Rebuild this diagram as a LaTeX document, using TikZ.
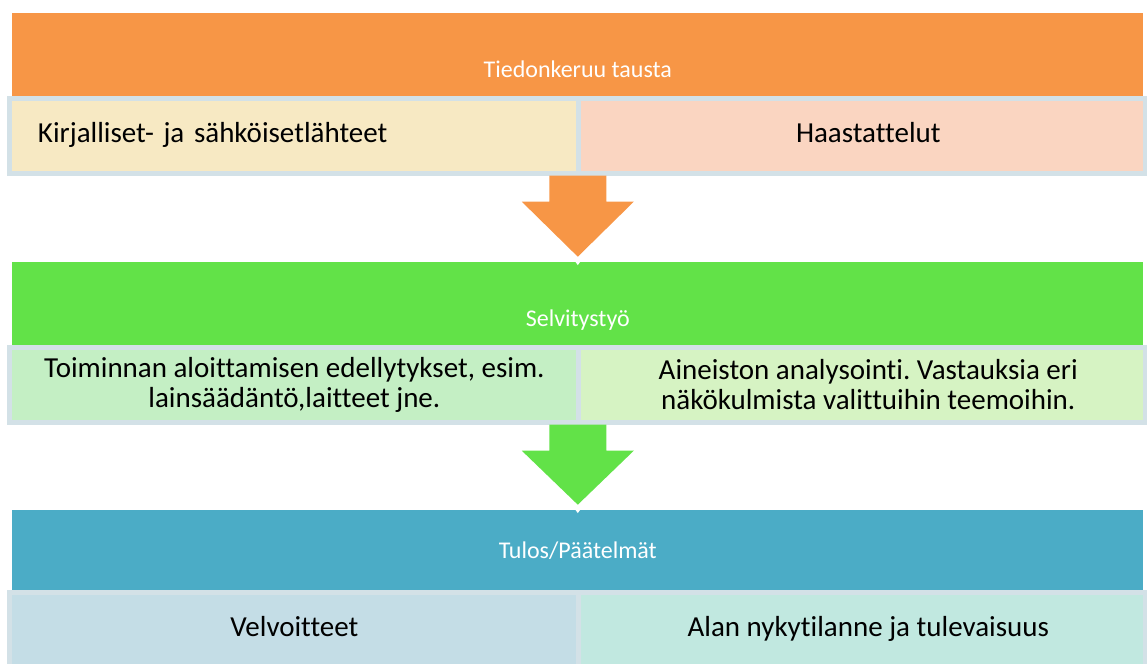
\documentclass[tikz,border=0pt]{standalone}
\usepackage{fontspec}
\setmainfont{Carlito}[Ligatures={NoCommon,NoContextual}]
\frenchspacing
\usetikzlibrary{calc,positioning}
\definecolor{bandorange}{RGB}{247,150,70}
\definecolor{bandgreen}{RGB}{98,226,72}
\definecolor{bandblue}{RGB}{75,172,198}
\definecolor{boxline}{RGB}{211,225,231}
\definecolor{boxbeige}{RGB}{247,233,195}
\definecolor{boxpeach}{RGB}{250,213,193}
\definecolor{boxmint}{RGB}{196,239,196}
\definecolor{boxlime}{RGB}{214,243,195}
\definecolor{boxsky}{RGB}{196,221,230}
\definecolor{boxaqua}{RGB}{193,232,224}

\begin{document}
\begin{tikzpicture}[
    band/.style={rectangle,inner sep=0pt,outer sep=0pt,minimum width=565.5pt,minimum height=41.5pt,
      text=white,font=\fontsize{12pt}{14pt}\selectfont,text height=24pt,text depth=1pt},
    sub/.style={rectangle,draw=boxline,line width=2.5pt,outer sep=1.25pt,minimum width=284.6pt,
      minimum height=37.5pt,align=center,font=\fontsize{14.5pt}{14.75pt}\selectfont},
    subright/.style={sub,minimum width=283.3pt},
    oneline/.style={text height=10.2pt,text depth=3pt}]
    \useasboundingbox (-288.9pt,27.1pt) rectangle (284.6pt,-304.9pt);
    \clip (-288.9pt,27.1pt) rectangle (284.6pt,-304.9pt);
    % tiedonkeruu
    \node[band,fill=bandorange] (b1) at (0,0) {Tiedonkeruu tausta};
    \node[sub,oneline,fill=boxbeige,text width=256.4pt,align=left,below right=0pt and -2.5pt of b1.south west] (k1) {Kirjalliset- ja sähköisetlähteet};
    \node[subright,oneline,fill=boxpeach,right=-2.5pt of k1] (h1) {\hspace*{6pt}Haastattelut};
    % selvitystyo
    \node[band,fill=bandgreen,below=83pt of b1] (b2) {Selvitystyö};
    \node[sub,fill=boxmint,below right=0pt and -2.5pt of b2.south west] (t2) {Toiminnan aloittamisen edellytykset, esim.\\lainsäädäntö,laitteet jne.};
    \node[subright,fill=boxlime,right=-2.5pt of t2] (a2) {\hspace*{6pt}Aineiston analysointi. Vastauksia eri\\\hspace*{6pt}näkökulmista valittuihin teemoihin.};
    % tulos
    \node[band,fill=bandblue,minimum height=40pt,text height=9.5pt,text depth=0.5pt,below=82.5pt of b2] (b3) {Tulos/Päätelmät};
    \node[sub,oneline,fill=boxsky,below right=0pt and -2.5pt of b3.south west] (v3) {Velvoitteet};
    \node[subright,oneline,fill=boxaqua,right=-2.5pt of v3] (n3) {\hspace*{6pt}Alan nykytilanne ja tulevaisuus};
    % block arrows
    \foreach \src/\dst/\col in {k1/b2/bandorange,t2/b3/bandgreen}{
      \coordinate (top) at (\dst.north |- \src.south);
      \fill[\col] ([xshift=-14.25pt]top) -- ([xshift=-14.25pt,yshift=-13pt]top) -- ([xshift=-28pt,yshift=-13pt]top)
        -- ([yshift=2.5pt]\dst.north) -- ([xshift=28pt,yshift=-13pt]top) -- ([xshift=14.25pt,yshift=-13pt]top)
        -- ([xshift=14.25pt]top) -- cycle;
      \fill[white] ([xshift=-1.25pt]\dst.north) -- ([xshift=1.25pt]\dst.north) -- ([yshift=-1.7pt]\dst.north) -- cycle;
    }
\end{tikzpicture}
\end{document}
